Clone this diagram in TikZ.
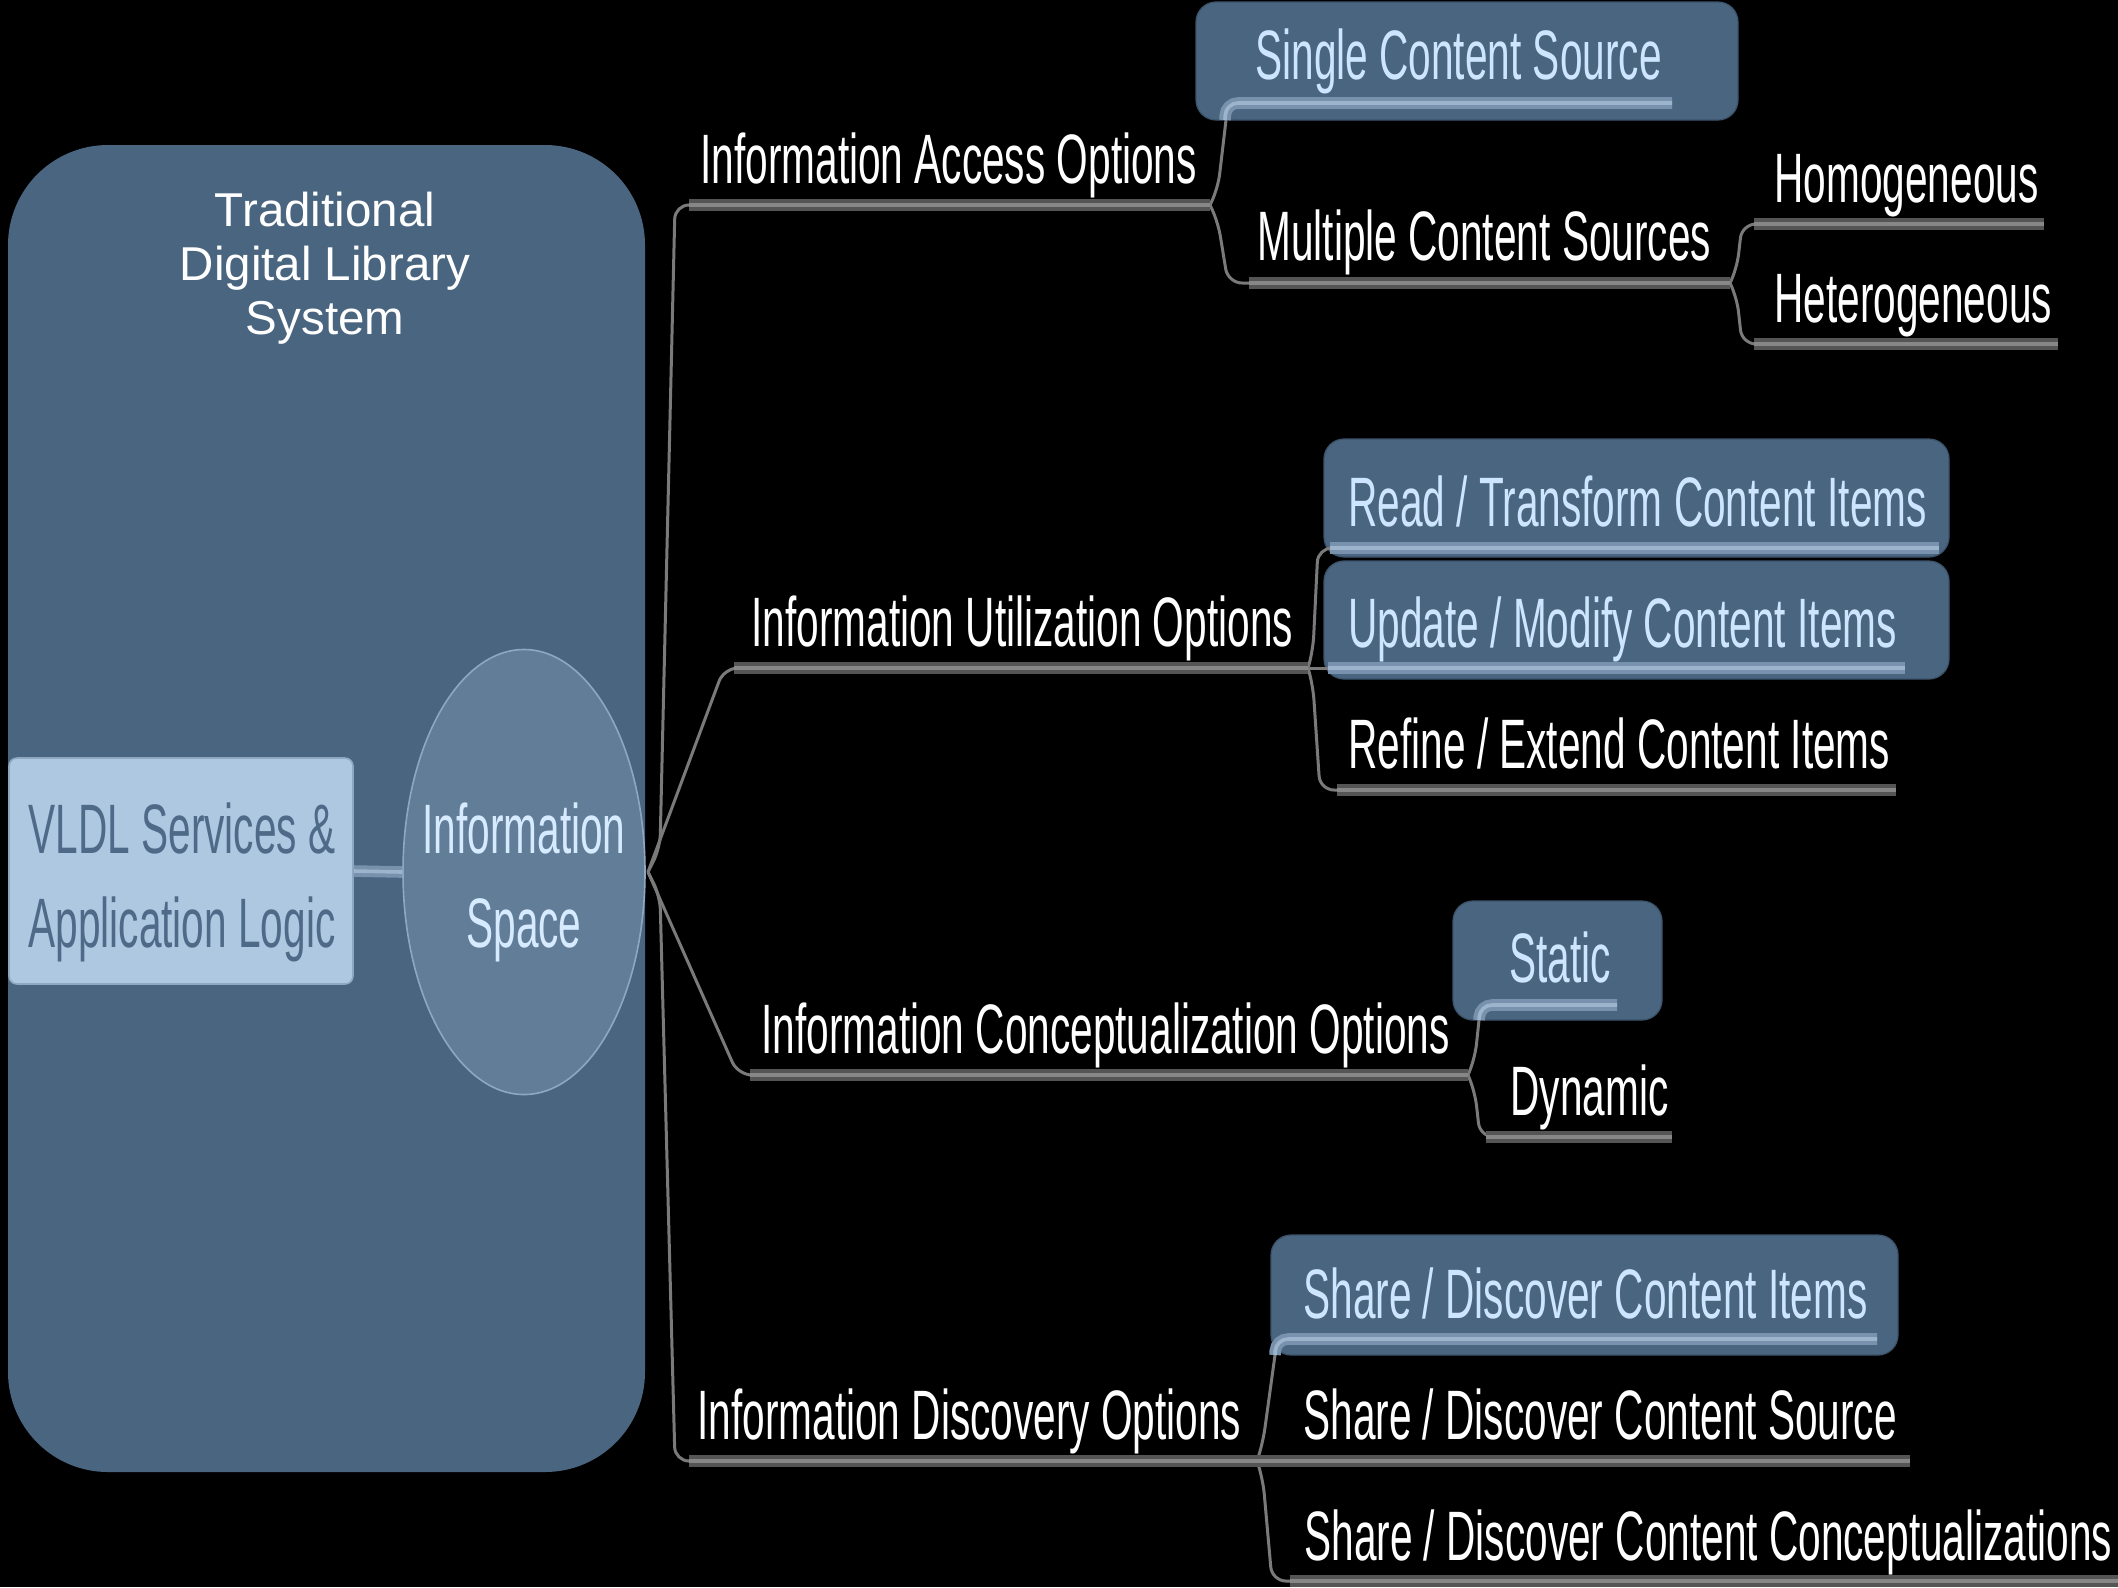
\documentclass[tikz,border=0pt]{standalone}
\usepackage{fontspec}
\setmainfont{Liberation Sans}
\newfontfamily\narrowfont[FakeStretch=0.58]{Liberation Sans}
\usetikzlibrary{calc,shapes.geometric}

\definecolor{slate}{HTML}{4A6580}
\definecolor{boxedge}{HTML}{3C536B}
\definecolor{ellipsefill}{HTML}{627D98}
\definecolor{ellipseedge}{HTML}{8FA8C1}
\definecolor{vldlfill}{HTML}{AFC8E1}
\definecolor{vldledge}{HTML}{8EA8C2}
\definecolor{vldlink}{HTML}{4E6A88}
\definecolor{boxtext}{HTML}{CDE5FF}
\definecolor{spacetext}{HTML}{D6EBFF}
\definecolor{linkgray}{HTML}{7A7A7A}
\definecolor{ulinedark}{HTML}{555555}
\definecolor{ulinelight}{HTML}{878787}
\definecolor{blinedark}{HTML}{7892AD}
\definecolor{blinelight}{HTML}{9CB4CC}

\begin{document}
\begin{tikzpicture}[x=0.5pt,y=-0.5pt,
  topic/.style={anchor=base west, inner sep=0pt, text=white,
    font=\narrowfont\fontsize{35pt}{42pt}\selectfont},
  boxtopic/.style={topic, text=boxtext},
  link/.style={draw=linkgray, line width=1.5pt, rounded corners=7pt},
  uline/.style={draw=ulinedark, line width=2pt, double=ulinelight, double distance=1.8pt},
  bline/.style={draw=blinedark, line width=2pt, double=blinelight, double distance=1.8pt,
    rounded corners=6pt},
  hibox/.style={fill=slate, draw=boxedge, line width=0.6pt, rounded corners=10pt},
]
\useasboundingbox (0,0) rectangle (2118,1587);
\fill[black] (0,0) rectangle (2118,1587);

% ---- system panel on the left ----
\fill[slate, rounded corners=50pt] (8,145) rectangle (645,1472);
\node[align=center, text=white, font=\fontsize{23.75pt}{27pt}\selectfont] (title)
  at (325,268) {Traditional\\Digital Library\\System};

\node[fill=vldlfill, draw=vldledge, line width=0.8pt, rounded corners=4pt,
  minimum width=172pt, minimum height=113pt, inner sep=0pt] (vldl) at (181,871) {};
\node[align=center, text=vldlink, font=\narrowfont\fontsize{35pt}{47pt}\selectfont]
  (vldltext) at (182,882) {VLDL Services \&\\Application Logic};

\node[ellipse, fill=ellipsefill, draw=ellipseedge, line width=0.8pt,
  minimum width=121pt, minimum height=222.5pt, inner sep=0pt] (space) at (524,872) {};
\node[align=center, text=spacetext, font=\narrowfont\fontsize{35pt}{47pt}\selectfont]
  (spacetext) at (524,882) {Information\\Space};

\draw[bline] (vldl.east) -- (space.west);

% ---- junction points and underline ends ----
\coordinate (root) at (648,872);
\coordinate (acc-a) at (689,205);  \coordinate (acc-b) at (1210,205);
\coordinate (uti-a) at (734,668);  \coordinate (uti-b) at (1308,668);
\coordinate (con-a) at (750,1075); \coordinate (con-b) at (1468,1075);
\coordinate (dis-a) at (689,1461); \coordinate (dis-b) at (1257,1461);

\coordinate (sin-a) at (1226,103);  \coordinate (sin-b) at (1672,103);
\coordinate (mul-a) at (1249,283);  \coordinate (mul-b) at (1730,283);
\coordinate (hom-a) at (1754,224);  \coordinate (hom-b) at (2044,224);
\coordinate (het-a) at (1754,344);  \coordinate (het-b) at (2058,344);
\coordinate (rea-a) at (1330,548);  \coordinate (rea-b) at (1939,548);
\coordinate (upd-a) at (1328,668);  \coordinate (upd-b) at (1905,668);
\coordinate (ref-a) at (1337,790);  \coordinate (ref-b) at (1896,790);
\coordinate (sta-a) at (1480,1005); \coordinate (sta-b) at (1617,1005);
\coordinate (dyn-a) at (1486,1137); \coordinate (dyn-b) at (1672,1137);
\coordinate (shi-a) at (1276,1339); \coordinate (shi-b) at (1877,1339);
\coordinate (sso-a) at (1257,1461); \coordinate (sso-b) at (1910,1461);
\coordinate (shc-a) at (1290,1581); \coordinate (shc-b) at (2130,1581);

% ---- highlighted topic boxes ----
\path[hibox] (1196,2) rectangle (1738,120);
\path[hibox] (1324,439) rectangle (1949,557);
\path[hibox] (1324,561) rectangle (1949,679);
\path[hibox] (1453,901) rectangle (1662,1020);
\path[hibox] (1271,1235) rectangle (1898,1355);

% ---- connectors from the information space ----
\draw[link] (root) -- (660,848) -- (675,205) -- ($(acc-a)+(30,0)$);
\draw[link] (root) -- (724,668) -- ($(uti-a)+(30,0)$);
\draw[link] (root) -- (738,1075) -- ($(con-a)+(30,0)$);
\draw[link] (root) -- (660,896) -- (675,1461) -- ($(dis-a)+(30,0)$);

% ---- second level connectors ----
\draw[link] (acc-b) -- (1218,188) -- (1226,120);
\draw[link] (acc-b) -- (1218,222) -- (1228,283) -- ($(mul-a)+(30,0)$);
\draw[link] (mul-b) -- (1737,268) -- (1742,224) -- ($(hom-a)+(25,0)$);
\draw[link] (mul-b) -- (1737,298) -- (1742,344) -- ($(het-a)+(25,0)$);
\draw[link] (uti-b) -- (1313,650) -- (1318,548) -- ($(rea-a)+(25,0)$);
\draw[link] (uti-b) -- (upd-a);
\draw[link] (uti-b) -- (1313,686) -- (1320,790) -- ($(ref-a)+(25,0)$);
\draw[link] (con-b) -- (1475,1058) -- (1479,1020);
\draw[link] (con-b) -- (1475,1092) -- (1480,1137) -- ($(dyn-a)+(25,0)$);
\draw[link] (dis-b) -- (1263,1442) -- (1275,1355);
\draw[link] (dis-b) -- (1263,1480) -- (1272,1581) -- ($(shc-a)+(25,0)$);

% ---- underlines ----
\draw[uline] (acc-a) -- (acc-b);
\draw[uline] (uti-a) -- (uti-b);
\draw[uline] (con-a) -- (con-b);
\draw[uline] (dis-a) -- (dis-b);
\draw[uline] (mul-a) -- (mul-b);
\draw[uline] (hom-a) -- (hom-b);
\draw[uline] (het-a) -- (het-b);
\draw[uline] (ref-a) -- (ref-b);
\draw[uline] (dyn-a) -- (dyn-b);
\draw[uline] (sso-a) -- (sso-b);
\draw[uline] (shc-a) -- (shc-b);

\draw[bline] (1225,120) -- (sin-a) -- (sin-b);
\draw[bline] (rea-a) -- (rea-b);
\draw[bline] (upd-a) -- (upd-b);
\draw[bline] (1479,1020) -- (sta-a) -- (sta-b);
\draw[bline] (1275,1355) -- (shi-a) -- (shi-b);

% ---- topic texts ----
\node[topic] (acc) at (700,183) {Information Access Options};
\node[topic] (uti) at (751,646) {Information Utilization Options};
\node[topic] (con) at (761,1053) {Information Conceptualization Options};
\node[topic] (dis) at (697,1439) {Information Discovery Options};

\node[boxtopic] (sin) at (1255,79) {Single Content Source};
\node[topic] (mul) at (1257,260) {Multiple Content Sources};
\node[topic] (hom) at (1774,202) {Homogeneous};
\node[topic] (het) at (1774,322) {Heterogeneous};
\node[boxtopic] (rea) at (1348,526) {Read / Transform Content Items};
\node[boxtopic] (upd) at (1348,647) {Update / Modify Content Items};
\node[topic] (ref) at (1348,768) {Refine / Extend Content Items};
\node[boxtopic] (sta) at (1509,982) {Static};
\node[topic] (dyn) at (1510,1115) {Dynamic};
\node[boxtopic] (shi) at (1303,1318) {Share / Discover Content Items};
\node[topic] (sso) at (1303,1439) {Share / Discover Content Source};
\node[topic] (shc) at (1304,1560) {Share / Discover Content Conceptualizations};
\end{tikzpicture}
\end{document}
